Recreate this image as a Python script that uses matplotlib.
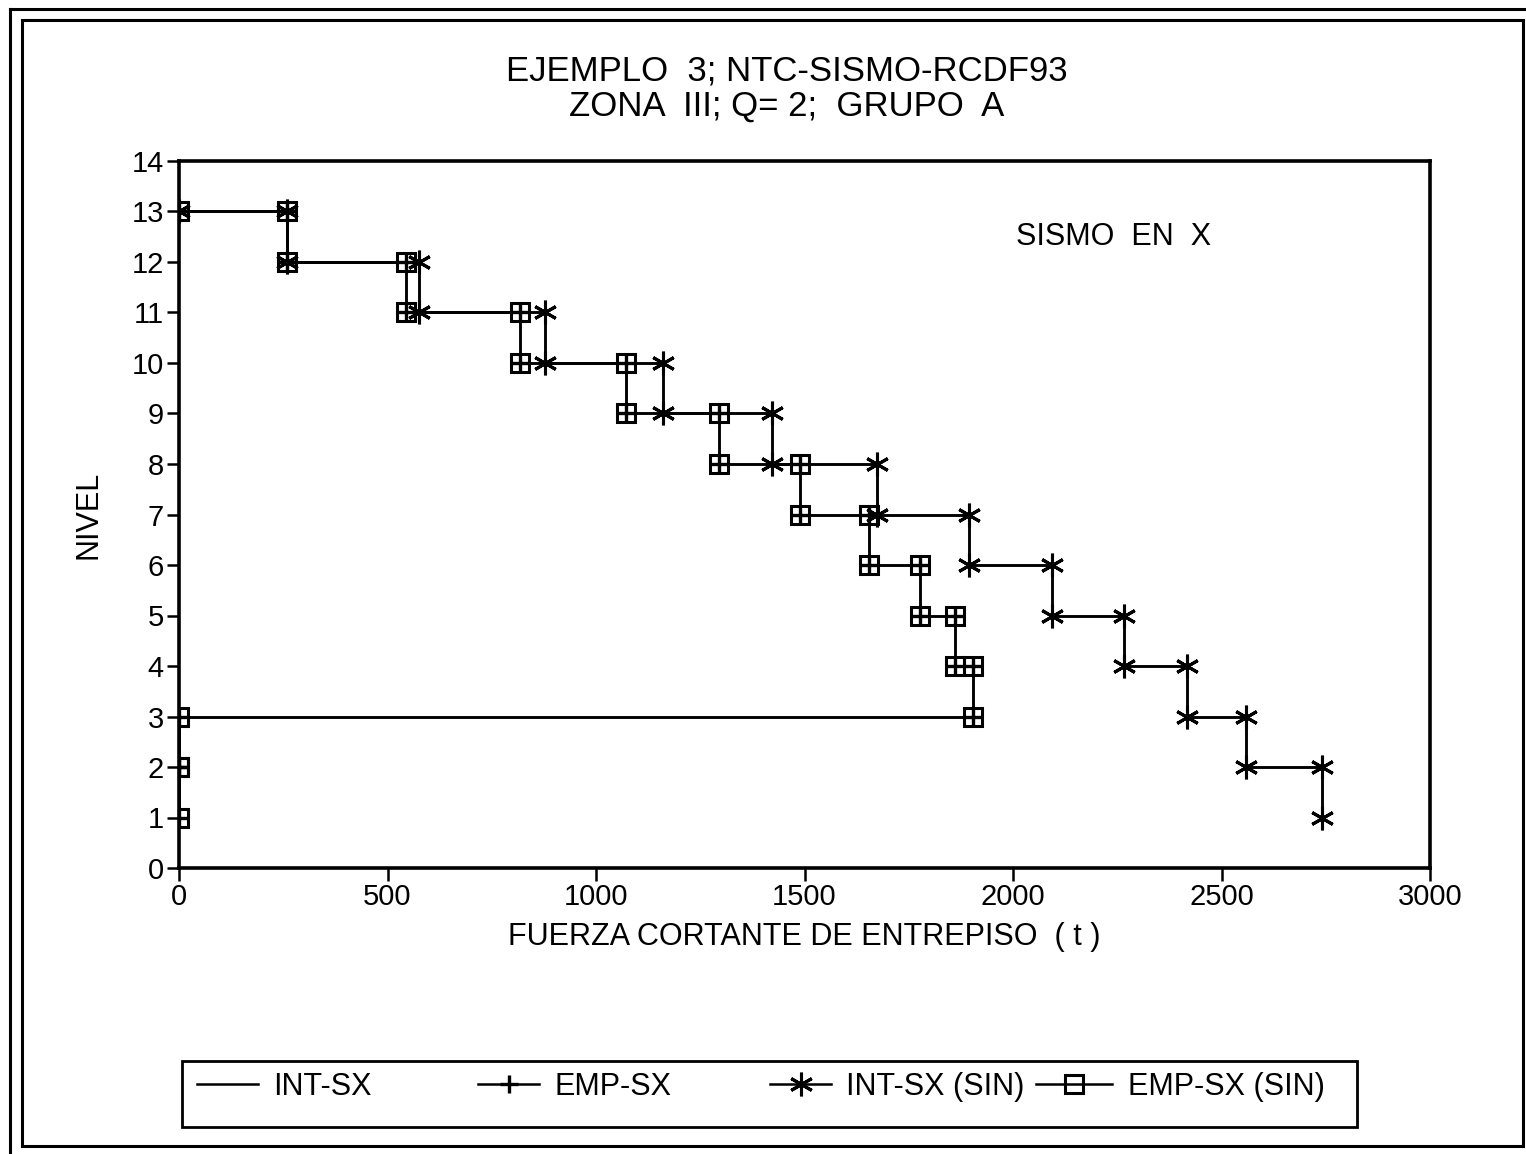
import matplotlib
matplotlib.use("Agg")
import matplotlib.pyplot as plt
from matplotlib.lines import Line2D
from matplotlib.patches import Rectangle

plt.rcParams['font.family'] = ['Liberation Sans', 'DejaVu Sans']

# ---- data ----
title_lines = ["EJEMPLO  3; NTC-SISMO-RCDF93", "ZONA  III; Q= 2;  GRUPO  A"]
top_level = 13
# story shear (t) for the story between level L and L-1, from L=13 down to L=2
story_top_levels = [13, 12, 11, 10, 9, 8, 7, 6, 5, 4, 3, 2]
int_sx = [260, 575, 878, 1160, 1422, 1673, 1895, 2093, 2265, 2418, 2558, 2742]
int_sx_sin = [260, 575, 878, 1160, 1422, 1673, 1895, 2093, 2265, 2418, 2558, 2742]
emp_sx = [258, 545, 818, 1072, 1296, 1489, 1654, 1776, 1860, 1905, 0, 0]
emp_sx_sin = [258, 545, 818, 1072, 1296, 1489, 1654, 1776, 1860, 1905, 0, 0]
x_ticks = [0, 500, 1000, 1500, 2000, 2500, 3000]
y_ticks = list(range(0, 15))
labels = ["INT-SX", "EMP-SX", "INT-SX (SIN)", "EMP-SX (SIN)"]


def steps(shears):
    xs, ys = [0], [top_level]
    for lvl, v in zip(story_top_levels, shears):
        xs += [v, v]
        ys += [lvl, lvl - 1]
    return xs, ys


W, H = 1526, 1154
fig = plt.figure(figsize=(W / 100, H / 100), dpi=100)

# page frame (double border)
fig.add_artist(Rectangle((22 / W, 1 - 1146 / H), (1523 - 22) / W, (1146 - 20) / H,
                         transform=fig.transFigure, fill=False, lw=2.2, ec='black'))
fig.add_artist(Line2D([10 / W, 10 / W], [0, 1 - 9 / H], transform=fig.transFigure, lw=2.2, color='black'))
fig.add_artist(Line2D([10 / W, 1], [1 - 9 / H, 1 - 9 / H], transform=fig.transFigure, lw=2.2, color='black'))

ax = fig.add_axes([179 / W, 1 - 868 / H, (1430 - 179) / W, (868 - 161) / H])

lw = 1.8
x, y = steps(int_sx)
h1, = ax.plot(x, y, color='black', lw=lw)
x, y = steps(emp_sx)
h2, = ax.plot(x, y, color='black', lw=lw, marker='+', ms=13, mew=2.4)
x, y = steps(int_sx_sin)
h3, = ax.plot(x, y, color='black', lw=lw, marker=(6, 2, 0), ms=17, mew=2.2)
x, y = steps(emp_sx_sin)
h4, = ax.plot(x, y, color='black', lw=lw, marker='s', ms=13, mfc='none', mew=2.2)

ax.set_xlim(0, 3000)
ax.set_ylim(0, 14)
ax.set_xticks(x_ticks)
ax.set_yticks(y_ticks)
ax.tick_params(direction='out', length=9, width=1.8, labelsize=21, pad=2)
for s in ax.spines.values():
    s.set_linewidth(2.6)

ax.set_xlabel("FUERZA CORTANTE DE ENTREPISO  ( t )", fontsize=22, labelpad=8)
ax.set_ylabel("NIVEL", fontsize=22, labelpad=20)
ax.text(2240, 12.5, "SISMO  EN  X", fontsize=22, ha='center', va='center')

fig.text(0.5155, 1 - 71 / H, title_lines[0], fontsize=25, ha='center', va='center')
fig.text(0.5155, 1 - 106 / H, title_lines[1], fontsize=25, ha='center', va='center')

# legend: frame plus four entries placed at the reference positions
fig.add_artist(Rectangle((182 / W, 1 - 1127 / H), (1357 - 182) / W, (1127 - 1061) / H,
                         transform=fig.transFigure, fill=False, lw=2.0, ec='black'))
entry_x = [197, 478, 770, 1036]
entry_len = [2.0, 2.0, 2.0, 2.5]
for handle, lab, ex, hl in zip([h1, h2, h3, h4], labels, entry_x, entry_len):
    fig.legend([handle], [lab], loc='center left', bbox_to_anchor=(ex / W, 1 - 1087 / H),
               fontsize=22, frameon=False, numpoints=1, handlelength=hl,
               borderpad=0, borderaxespad=0, handletextpad=0.5)

fig.savefig("out.png", dpi=100, facecolor='white')
